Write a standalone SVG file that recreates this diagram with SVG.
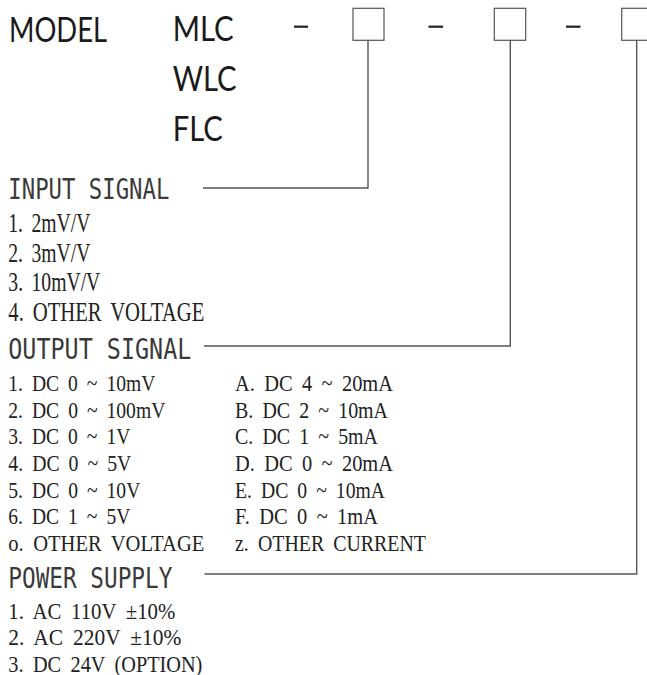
<svg xmlns="http://www.w3.org/2000/svg" width="647" height="675" viewBox="0 0 647 675">
<style>
.bg{fill:#fff}
.title{font-family:Lato,"Liberation Sans",Arial,sans-serif;font-weight:400;font-size:35px;fill:#1a1a1a}
.head{font-family:"DejaVu Sans Mono","Liberation Mono",monospace;font-size:29px;fill:#3a3a3a}
.item{font-family:"Liberation Serif","Times New Roman",serif;fill:#222;word-spacing:5px}
.in{font-size:28px}
.out{font-size:24px}
.pw{font-size:23px}
.box{fill:#fff;stroke:#555;stroke-width:1.2}
.dash{stroke:#222;stroke-width:2.2}
.conn{fill:none;stroke:#555;stroke-width:1.4}
</style>
<rect class="bg" x="0" y="0" width="647" height="675"/>
<g id="model">
<text class="title" x="9" y="41.7" font-size="32" textLength="98" lengthAdjust="spacingAndGlyphs">MODEL</text>
<text class="title" x="172.7" y="40.7" textLength="61" lengthAdjust="spacingAndGlyphs">MLC</text>
<text class="title" x="172.7" y="90.7" textLength="64" lengthAdjust="spacingAndGlyphs">WLC</text>
<text class="title" x="172.7" y="140.7" textLength="50" lengthAdjust="spacingAndGlyphs">FLC</text>
<line class="dash" x1="294" y1="26.7" x2="308" y2="26.7"/>
<line class="dash" x1="428.5" y1="26.7" x2="443" y2="26.7"/>
<line class="dash" x1="566" y1="26.7" x2="580.5" y2="26.7"/>
</g>
<g id="box-input"><rect class="box" x="353" y="8.3" width="31" height="32"/></g>
<g id="box-output"><rect class="box" x="494.3" y="8.3" width="31.4" height="32"/></g>
<g id="box-power"><rect class="box" x="621.7" y="8.3" width="32" height="32"/></g>
<g id="connectors">
<polyline class="conn" points="368,40.3 368,188 203,188"/>
<polyline class="conn" points="510.3,40.3 510.3,346 204,346"/>
<polyline class="conn" points="636.7,40.3 636.7,574 204.5,574"/>
</g>
<g id="input-signal">
<text class="head" x="8.3" y="199.3" textLength="161" lengthAdjust="spacingAndGlyphs">INPUT SIGNAL</text>
<text class="item in" x="8.3" y="231.7" textLength="82" lengthAdjust="spacingAndGlyphs">1. 2mV/V</text>
<text class="item in" x="8.3" y="261.5" textLength="82" lengthAdjust="spacingAndGlyphs">2. 3mV/V</text>
<text class="item in" x="8.3" y="291.3" textLength="92" lengthAdjust="spacingAndGlyphs">3. 10mV/V</text>
<text class="item in" x="8.3" y="320.7" textLength="196" lengthAdjust="spacingAndGlyphs">4. OTHER VOLTAGE</text>
</g>
<g id="output-signal">
<text class="head" x="8.3" y="359.3" textLength="183" lengthAdjust="spacingAndGlyphs">OUTPUT SIGNAL</text>
<text class="item out" x="8.3" y="391" textLength="147" lengthAdjust="spacingAndGlyphs">1. DC 0 ~ 10mV</text>
<text class="item out" x="8.3" y="417.7" textLength="157" lengthAdjust="spacingAndGlyphs">2. DC 0 ~ 100mV</text>
<text class="item out" x="8.3" y="444.3" textLength="122" lengthAdjust="spacingAndGlyphs">3. DC 0 ~ 1V</text>
<text class="item out" x="8.3" y="471" textLength="123" lengthAdjust="spacingAndGlyphs">4. DC 0 ~ 5V</text>
<text class="item out" x="8.3" y="497.7" textLength="132" lengthAdjust="spacingAndGlyphs">5. DC 0 ~ 10V</text>
<text class="item out" x="8.3" y="524.3" textLength="122" lengthAdjust="spacingAndGlyphs">6. DC 1 ~ 5V</text>
<text class="item out" x="8.3" y="551" textLength="196" lengthAdjust="spacingAndGlyphs">o. OTHER VOLTAGE</text>
<text class="item out" x="235" y="391" textLength="158" lengthAdjust="spacingAndGlyphs">A. DC 4 ~ 20mA</text>
<text class="item out" x="235" y="417.7" textLength="153" lengthAdjust="spacingAndGlyphs">B. DC 2 ~ 10mA</text>
<text class="item out" x="235" y="444.3" textLength="143" lengthAdjust="spacingAndGlyphs">C. DC 1 ~ 5mA</text>
<text class="item out" x="235" y="471" textLength="158" lengthAdjust="spacingAndGlyphs">D. DC 0 ~ 20mA</text>
<text class="item out" x="235" y="497.7" textLength="150" lengthAdjust="spacingAndGlyphs">E. DC 0 ~ 10mA</text>
<text class="item out" x="235" y="524.3" textLength="143" lengthAdjust="spacingAndGlyphs">F. DC 0 ~ 1mA</text>
<text class="item out" x="235" y="551" textLength="191" lengthAdjust="spacingAndGlyphs">z. OTHER CURRENT</text>
</g>
<g id="power-supply">
<text class="head" x="8.3" y="587.5" textLength="164" lengthAdjust="spacingAndGlyphs">POWER SUPPLY</text>
<text class="item pw" x="8.3" y="619.3" textLength="167" lengthAdjust="spacingAndGlyphs">1. AC 110V ±10%</text>
<text class="item pw" x="8.3" y="645.3" textLength="173" lengthAdjust="spacingAndGlyphs">2. AC 220V ±10%</text>
<text class="item pw" x="8.3" y="671.5" textLength="194" lengthAdjust="spacingAndGlyphs">3. DC 24V (OPTION)</text>
</g>
</svg>
